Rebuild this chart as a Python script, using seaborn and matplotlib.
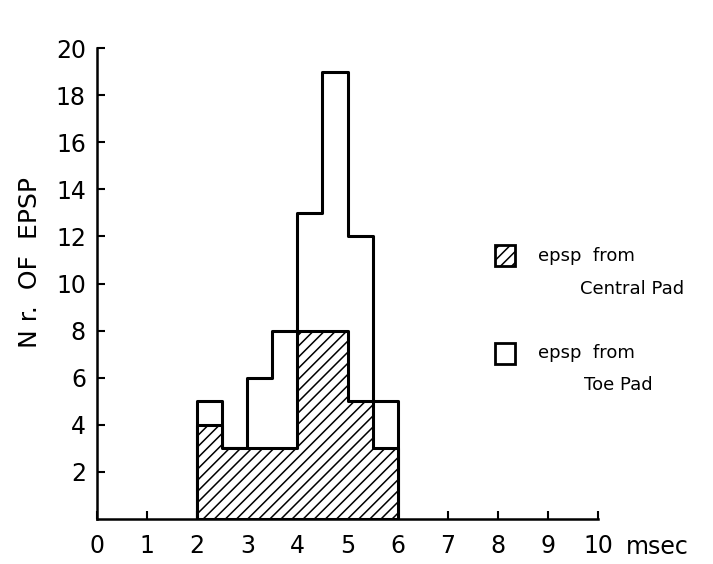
import numpy as np
import pandas as pd
import matplotlib
matplotlib.use("Agg")
import matplotlib.pyplot as plt
import seaborn as sns
from matplotlib.patches import Rectangle

# ---- data ----
bin_left = [2.0, 2.5, 3.0, 3.5, 4.0, 4.5, 5.0, 5.5]
central_pad = [4, 3, 3, 3, 8, 8, 5, 3]
toe_pad = [1, 0, 3, 5, 5, 11, 7, 2]
x_ticks = [0, 1, 2, 3, 4, 5, 6, 7, 8, 9, 10]
y_ticks = [2, 4, 6, 8, 10, 12, 14, 16, 18, 20]

df = pd.DataFrame({
    "latency": [b + 0.25 for b in bin_left] * 2,
    "count": central_pad + toe_pad,
    "source": ["Central Pad"] * len(bin_left) + ["Toe Pad"] * len(bin_left),
})

sns.set_style("ticks")
plt.rcParams["font.family"] = ["DejaVu Sans"]
plt.rcParams["text.color"] = "black"
plt.rcParams["hatch.linewidth"] = 1.1
plt.rcParams["hatch.color"] = "black"

fig = plt.figure(figsize=(7.13, 5.64), dpi=100)
ax = fig.add_axes([97 / 713, 1 - 519 / 564, (598 - 97) / 713, (519 - 48) / 564])

# total (outline, white)
sns.histplot(data=df, x="latency", weights="count", binwidth=0.5, binrange=(2, 6),
             element="step", fill=True, ax=ax, color="white", alpha=1)
# central pad (hatched)
sns.histplot(data=df[df["source"] == "Central Pad"], x="latency", weights="count",
             binwidth=0.5, binrange=(2, 6), element="step", fill=True, ax=ax,
             color="white", alpha=1)

for i, coll in enumerate(ax.collections):
    coll.set_facecolor("white")
    coll.set_edgecolor("black")
    coll.set_linewidth(2.2)
    coll.set_alpha(1)
    if i == 1:
        coll.set_hatch("///")
    coll.set_zorder(2 + i)

ax.set_xlim(0, 10)
ax.set_ylim(0, 20)
ax.set_xticks(x_ticks)
ax.set_xticklabels([str(t) for t in x_ticks])
ax.set_yticks(y_ticks)
ax.set_yticklabels([str(t) for t in y_ticks])
ax.set_xlabel("")
ax.set_ylabel("")
for s in ["top", "right"]:
    ax.spines[s].set_visible(False)
for s in ["left", "bottom"]:
    ax.spines[s].set_linewidth(1.8)
    ax.spines[s].set_color("black")
ax.tick_params(axis="both", direction="in", length=6, width=1.5, colors="black",
               labelsize=17)
ax.tick_params(axis="x", pad=11)
ax.tick_params(axis="y", pad=8)
ax.set_facecolor("white")

# unit after "10"
fig.text(626 / 713, 1 - 547 / 564, "msec", fontsize=17, va="center", ha="left",
         color="black")

# y label
fig.text(30 / 713, 1 - 263 / 564, "N r.  OF  EPSP", rotation=90, fontsize=18,
         va="center", ha="center", color="black")

# legend
fig.patches.append(Rectangle((495 / 713, 1 - 266 / 564), 20 / 713, 21 / 564,
                             transform=fig.transFigure, facecolor="white",
                             edgecolor="black", linewidth=2, hatch="///"))
fig.patches.append(Rectangle((495 / 713, 1 - 364 / 564), 20 / 713, 21 / 564,
                             transform=fig.transFigure, facecolor="white",
                             edgecolor="black", linewidth=2))
fig.text(538 / 713, 1 - 256 / 564, "epsp  from", fontsize=13, va="center", ha="left")
fig.text(580 / 713, 1 - 289 / 564, "Central Pad", fontsize=13, va="center", ha="left")
fig.text(538 / 713, 1 - 353 / 564, "epsp  from", fontsize=13, va="center", ha="left")
fig.text(584 / 713, 1 - 385 / 564, "Toe Pad", fontsize=13, va="center", ha="left")

fig.savefig("out.png", dpi=100, facecolor="white")
